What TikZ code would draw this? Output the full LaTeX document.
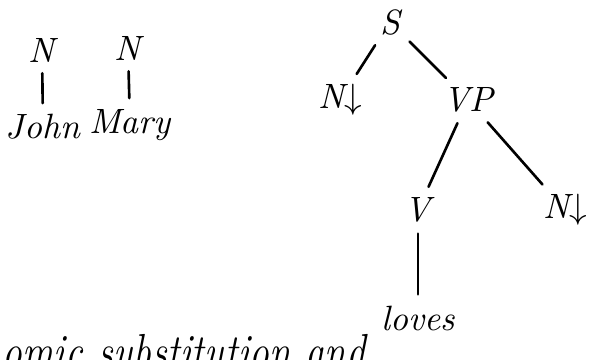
\documentclass[tikz,border=0pt]{standalone}
\usepackage{amssymb}
\tikzset{
  lab/.style={inner sep=1.5pt, font=\fontsize{10}{12}\selectfont\itshape},
  br/.style={line width=0.75pt, line cap=round, shorten <=1.5pt, shorten >=1.5pt}
}
\begin{document}
\begin{tikzpicture}[x=0.01cm,y=-0.01cm]
  \useasboundingbox (0,0) rectangle (605,360);
  % elementary trees for the nouns
  \node[lab] (n1) at (42,50) {N};
  \node[lab] (john) at (43,127) {John};
  \node[lab] (n2) at (128,48) {N};
  \node[lab] (mary) at (130,125) {Mary};
  \draw[br] (n1) -- (john);
  \draw[br] (n2) -- (mary);

  % tree for the verb
  \node[lab] (s) at (390,22) {S};
  \node[lab] (np1) at (340,100) {N$\downarrow$};
  \node[lab] (vp) at (468,100) {VP};
  \node[lab] (v) at (418,210) {V};
  \node[lab] (np2) at (565,210) {N$\downarrow$};
  \node[lab] (loves) at (418,318) {loves};
  \draw[br] (s) -- (np1);
  \draw[br] (s) -- (vp);
  \draw[br] (vp) -- (v);
  \draw[br] (vp) -- (np2);
  \draw[br] (v) -- (loves);

  \node[lab, anchor=base west, xscale=0.8, font=\fontsize{14}{16}\selectfont\itshape] (note) at (-2,368) {omic substitution and};
\end{tikzpicture}
\end{document}
